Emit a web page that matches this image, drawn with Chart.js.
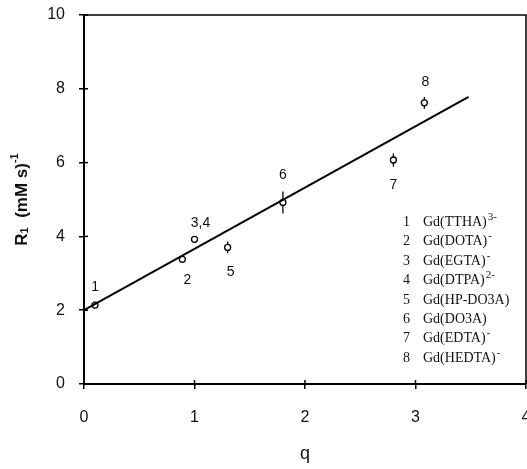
<!DOCTYPE html>
<html>
<head>
<meta charset="utf-8">
<script src="https://cdn.jsdelivr.net/npm/chart.js@4.4.0/dist/chart.umd.min.js"></script>
<style>
html, body { margin: 0; padding: 0; background: #fff; overflow: hidden; }
#wrap { width: 527px; height: 469px; overflow: hidden; }
</style>
</head>
<body>
<div id="wrap"><canvas id="chart" width="540" height="469"></canvas></div>
<script>
// data
const pointLabels = ['1', '2', '3,4', '5', '6', '7', '8'];
const qValues = [0.1, 0.89, 1.0, 1.3, 1.8, 2.8, 3.08];
const r1Values = [2.14, 3.38, 3.92, 3.70, 4.92, 6.07, 7.62];
const r1Errors = [0, 0, 0, 0.16, 0.3, 0.18, 0.16];
const fitQ = [0, 3.48];
const fitR1 = [2.0, 7.78];
const xTicks = [0, 1, 2, 3, 4];
const yTicks = [0, 2, 4, 6, 8, 10];
const legendNums = ['1', '2', '3', '4', '5', '6', '7', '8'];
const legendNames = ['Gd(TTHA)', 'Gd(DOTA)', 'Gd(EGTA)', 'Gd(DTPA)', 'Gd(HP-DO3A)', 'Gd(DO3A)', 'Gd(EDTA)', 'Gd(HEDTA)'];
const legendCharges = ['3-', '-', '-', '2-', '', '', '-', '-'];

// label offsets in px (dx, dy) relative to each point
const labelOffsets = [[0, -18], [5, 21], [6, -16], [3, 25], [0, -27], [0, 25], [1, -21]];

const sans = "'Liberation Sans', Arial, sans-serif";
const serif = "'Liberation Serif', 'Times New Roman', serif";

const extrasPlugin = {
    id: 'extras',
    beforeDatasetsDraw(chart) {
        const ctx = chart.ctx;
        const xs = chart.scales.x, ys = chart.scales.y;
        ctx.save();
        ctx.strokeStyle = '#000';
        ctx.lineWidth = 1.3;
        r1Errors.forEach((e, i) => {
            if (!e) return;
            const px = xs.getPixelForValue(qValues[i]);
            ctx.beginPath();
            ctx.moveTo(px, ys.getPixelForValue(r1Values[i] - e));
            ctx.lineTo(px, ys.getPixelForValue(r1Values[i] + e));
            ctx.stroke();
        });
        ctx.restore();
    },
    afterDraw(chart) {
        const ctx = chart.ctx;
        const area = chart.chartArea;
        const xs = chart.scales.x, ys = chart.scales.y;
        ctx.save();
        ctx.strokeStyle = '#000';

        // frame top and right
        ctx.lineWidth = 1.5;
        ctx.beginPath();
        ctx.moveTo(area.left, area.top);
        ctx.lineTo(area.right, area.top);
        ctx.lineTo(area.right, area.bottom);
        ctx.stroke();

        // inner tick marks
        ctx.lineWidth = 1.5;
        xTicks.forEach(v => {
            const px = xs.getPixelForValue(v);
            ctx.beginPath();
            ctx.moveTo(px, area.bottom);
            ctx.lineTo(px, area.bottom - 4);
            ctx.stroke();
        });
        yTicks.forEach(v => {
            const py = ys.getPixelForValue(v);
            ctx.beginPath();
            ctx.moveTo(area.left, py);
            ctx.lineTo(area.left + 4, py);
            ctx.stroke();
        });

        // point labels
        ctx.fillStyle = '#111';
        ctx.font = '14px ' + sans;
        ctx.textAlign = 'center';
        ctx.textBaseline = 'middle';
        pointLabels.forEach((lab, i) => {
            const px = xs.getPixelForValue(qValues[i]) + labelOffsets[i][0];
            const py = ys.getPixelForValue(r1Values[i]) + labelOffsets[i][1];
            ctx.fillText(lab, px, py);
        });

        // legend
        ctx.textBaseline = 'alphabetic';
        legendNums.forEach((n, i) => {
            const y = 226 + i * 19.4;
            ctx.font = '14px ' + serif;
            ctx.textAlign = 'right';
            ctx.fillText(n, area.right - 116, y);
            ctx.textAlign = 'left';
            const tx = area.right - 103;
            ctx.fillText(legendNames[i], tx, y);
            if (legendCharges[i]) {
                const w = ctx.measureText(legendNames[i]).width;
                ctx.font = '11px ' + serif;
                ctx.fillText(legendCharges[i], tx + w + 1, y - 6);
            }
        });

        // y axis title with sub/superscript
        ctx.translate(22, (area.top + area.bottom) / 2);
        ctx.rotate(-Math.PI / 2);
        const parts = [
            { t: 'R', f: 'bold 17px ' + sans, dy: 0 },
            { t: '1', f: 'bold 11px ' + sans, dy: 3 },
            { t: '  (mM s)', f: 'bold 17px ' + sans, dy: 0 },
            { t: '-1', f: 'bold 11px ' + sans, dy: -7 }
        ];
        let total = 0;
        parts.forEach(p => { ctx.font = p.f; p.w = ctx.measureText(p.t).width; total += p.w; });
        let x = -total / 2;
        ctx.textAlign = 'left';
        ctx.textBaseline = 'middle';
        parts.forEach(p => {
            ctx.font = p.f;
            ctx.fillText(p.t, x, p.dy);
            x += p.w;
        });
        ctx.restore();
    }
};

const ctx = document.getElementById('chart');
new Chart(ctx, {
    data: {
        datasets: [{
            type: 'line',
            label: 'fit',
            data: fitQ.map((q, i) => ({ x: q, y: fitR1[i] })),
            borderColor: '#000',
            borderWidth: 2,
            pointRadius: 0,
            fill: false
        }, {
            type: 'scatter',
            label: 'complexes',
            data: qValues.map((q, i) => ({ x: q, y: r1Values[i] })),
            pointRadius: 3,
            pointBorderWidth: 1.3,
            pointBorderColor: '#000',
            pointBackgroundColor: '#fff'
        }]
    },
    options: {
        responsive: false,
        animation: false,
        layout: { padding: { left: 0, right: 14, top: 15, bottom: 0 } },
        plugins: { legend: { display: false }, tooltip: { enabled: false } },
        scales: {
            x: {
                type: 'linear',
                min: 0,
                max: 4,
                afterBuildTicks: s => { s.ticks = xTicks.map(v => ({ value: v })); },
                afterFit: s => { s.height = 85; s.paddingLeft = 0; s.paddingRight = 0; },
                border: { color: '#000', width: 2 },
                grid: { drawOnChartArea: false, drawTicks: true, tickLength: 5, color: '#000', lineWidth: 1.5 },
                ticks: { color: '#111', padding: 19, font: { family: sans, size: 16 }, maxRotation: 0 },
                title: { display: true, text: 'q', color: '#111', font: { family: sans, size: 18 }, padding: { top: 0, bottom: 4 } }
            },
            y: {
                type: 'linear',
                min: 0,
                max: 10,
                afterBuildTicks: s => { s.ticks = yTicks.map(v => ({ value: v })); },
                afterFit: s => { s.width = 84; s.paddingTop = 0; s.paddingBottom = 0; },
                border: { color: '#000', width: 2 },
                grid: { drawOnChartArea: false, drawTicks: true, tickLength: 5, color: '#000', lineWidth: 1.5 },
                ticks: { color: '#111', padding: 14, font: { family: sans, size: 16 } }
            }
        }
    },
    plugins: [extrasPlugin]
});
</script>
</body>
</html>
